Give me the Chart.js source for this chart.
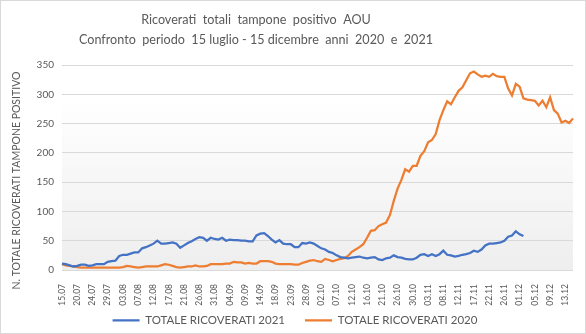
<!DOCTYPE html>
<html><head><meta charset="utf-8">
<script src="https://cdn.jsdelivr.net/npm/chart.js@4.4.0/dist/chart.umd.min.js"></script>
<style>
html,body{margin:0;padding:0;background:#fff;}
#wrap{position:relative;width:586px;height:334px;box-sizing:border-box;border:1px solid #d9d9d9;background:#fff;}
</style></head><body>
<div id="wrap"><canvas id="c"></canvas></div>
<script>
const titleLines = [
  "Ricoverati  totali  tampone  positivo  AOU",
  "Confronto  periodo  15 luglio - 15 dicembre  anni  2020  e  2021"
];
const yAxisTitle = "N. TOTALE RICOVERATI TAMPONE POSITIVO";
const seriesNames = ["TOTALE RICOVERATI 2021", "TOTALE RICOVERATI 2020"];

const dates = [
  "15.07","16.07","17.07","18.07","20.07","21.07","22.07","23.07",
  "24.07","25.07","26.07","27.07","29.07","30.07","31.07","01.08",
  "03.08","04.08","05.08","06.08","07.08","08.08","09.08","10.08",
  "12.08","13.08","14.08","15.08","17.08","18.08","19.08","20.08",
  "21.08","22.08","23.08","24.08","26.08","27.08","28.08","29.08",
  "31.08","01.09","02.09","03.09","04.09","05.09","06.09","07.09",
  "09.09","10.09","11.09","12.09","14.09","15.09","16.09","17.09",
  "18.09","19.09","20.09","21.09","23.09","24.09","25.09","26.09",
  "28.09","29.09","30.09","01.10","02.10","03.10","04.10","05.10",
  "07.10","08.10","09.10","10.10","12.10","13.10","14.10","15.10",
  "16.10","17.10","18.10","19.10","21.10","22.10","23.10","24.10",
  "26.10","27.10","28.10","29.10","30.10","31.10","01.11","02.11",
  "03.11","04.11","05.11","06.11","08.11","09.11","10.11","11.11",
  "12.11","13.11","14.11","15.11","17.11","18.11","19.11","20.11",
  "22.11","23.11","24.11","25.11","26.11","27.11","28.11","29.11",
  "01.12","02.12","03.12","04.12","05.12","06.12","07.12","08.12",
  "09.12","10.12","11.12","12.12","13.12","14.12","15.12"
];

const tickLabels = [
  "15.07","20.07","24.07","29.07","03.08","07.08","12.08","17.08","21.08",
  "26.08","31.08","04.09","09.09","14.09","18.09","23.09","28.09","02.10",
  "07.10","12.10","16.10","21.10","26.10","30.10","03.11","08.11","12.11",
  "17.11","22.11","26.11","01.12","05.12","09.12","13.12"
];

const ricoverati2021 = [
  11,10,8,6,7,9,9,7,8,10,10,10,14,15,16,24,
  26,26,28,30,30,37,39,42,45,50,45,45,46,47,45,38,
  42,46,49,53,56,55,50,55,53,52,55,50,52,51,51,50,
  50,49,49,59,62,63,58,52,47,51,45,44,44,39,39,46,
  45,47,45,41,37,35,31,29,25,22,21,20,21,22,23,21,
  20,21,22,18,17,20,21,25,22,21,19,18,18,21,26,27,
  24,27,24,27,33,26,25,23,24,26,27,29,33,31,35,42,
  45,45,46,47,50,57,59,66,61,58
];

const ricoverati2020 = [
  10,8,7,6,5,4,4,4,4,4,4,4,4,4,4,4,
  5,7,6,5,4,5,6,6,6,6,8,10,9,7,5,4,
  5,6,6,8,6,6,7,10,10,10,10,11,11,14,13,13,
  11,12,11,11,15,15,15,14,11,10,10,10,10,9,9,12,
  14,16,17,15,14,19,17,15,17,19,20,24,31,35,39,44,
  55,67,68,75,78,81,94,118,139,154,172,168,178,178,195,203,
  218,222,232,256,273,288,283,295,306,312,324,336,339,334,330,332,
  330,335,331,330,330,310,298,318,313,293,291,290,289,281,289,278,
  295,273,267,252,255,251,259
];

const gradientBg = {
  id: 'plotBg',
  beforeDraw(chart) {
    const {ctx, chartArea: a} = chart;
    const g = ctx.createLinearGradient(0, a.top, 0, a.bottom);
    g.addColorStop(0, '#ffffff');
    g.addColorStop(0.15, '#ffffff');
    g.addColorStop(1, '#eeeeee');
    ctx.save();
    ctx.fillStyle = g;
    ctx.fillRect(a.left, a.top, a.right - a.left, a.bottom - a.top);
    ctx.restore();
  }
};

// position tweaks for titles / legend (Excel-like placement)
const placeBlocks = {
  id: 'placeBlocks',
  afterLayout(chart) {
    if (chart.titleBlock) { chart.titleBlock.right -= 62; }
    if (chart.scales.y) { chart.scales.y.bottom += 26; }
    if (chart.scales.x) { chart.scales.x.bottom += 30; }
    if (chart.legend) { chart.legend.left += 8; chart.legend.right += 8; }
  }
};

const gray = '#595959';
const FONT = 'Lato';

new Chart(document.getElementById('c'), {
  type: 'line',
  data: {
    labels: dates,
    datasets: [
      {label: seriesNames[0], data: ricoverati2021, borderColor: '#4472C4', backgroundColor: '#4472C4',
       borderWidth: 2.25, pointRadius: 0, tension: 0, fill: false},
      {label: seriesNames[1], data: ricoverati2020, borderColor: '#ED7D31', backgroundColor: '#ED7D31',
       borderWidth: 2.25, pointRadius: 0, tension: 0, fill: false}
    ]
  },
  plugins: [gradientBg, placeBlocks],
  options: {
    responsive: true,
    maintainAspectRatio: false,
    animation: false,
    layout: {padding: {left: 0, right: 12, top: 0, bottom: -3}},
    plugins: {
      title: {display: true, text: titleLines, color: gray,
              font: {family: FONT, size: 12.6, weight: 'normal', lineHeight: 1.59},
              padding: {top: 9, bottom: 15}},
      legend: {position: 'bottom',
               labels: {usePointStyle: true, pointStyle: 'line', pointStyleWidth: 27,
                        color: gray, font: {family: FONT, size: 11.5}, padding: 20}},
      tooltip: {enabled: false}
    },
    scales: {
      x: {
        offset: false,
        grid: {display: false},
        border: {display: false},
        ticks: {autoSkip: false, maxRotation: 90, minRotation: 90, color: gray, padding: 6,
                font: {family: FONT, size: 8.5},
                callback(v, i) { const l = dates[i]; return tickLabels.includes(l) ? l : null; }},
        afterFit(scale) { scale.height = 24.5; }
      },
      y: {
        min: 0, max: 350,
        grid: {color: '#d9d9d9', drawTicks: false},
        border: {display: false},
        ticks: {stepSize: 50, color: gray, padding: 8, font: {family: FONT, size: 10}},
        title: {display: true, text: yAxisTitle, color: gray, font: {family: FONT, size: 10.5},
                padding: {top: 9, bottom: 0}},
        afterFit(scale) { scale.width = 61; }
      }
    }
  }
});
</script>
</body></html>
